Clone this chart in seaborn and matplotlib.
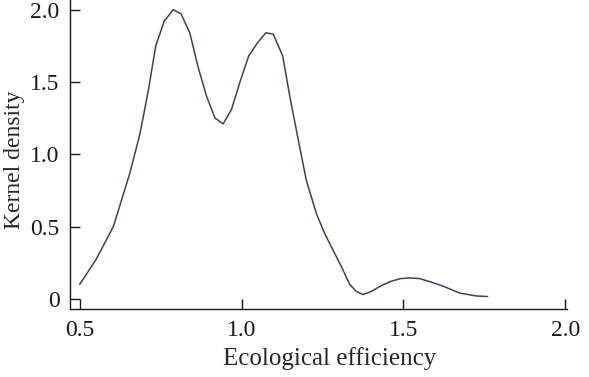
import numpy as np
import pandas as pd
import matplotlib
matplotlib.use("Agg")
import matplotlib.pyplot as plt
import seaborn as sns

# kernel density estimate
efficiency = [0.500, 0.550, 0.604, 0.655, 0.686, 0.712, 0.735, 0.761, 0.789,
              0.813, 0.840, 0.866, 0.892, 0.918, 0.943, 0.969, 0.995, 1.022,
              1.049, 1.075, 1.098, 1.127, 1.149, 1.175, 1.200, 1.231, 1.257,
              1.309, 1.334, 1.355, 1.375, 1.400, 1.430, 1.460, 1.490, 1.520,
              1.550, 1.580, 1.620, 1.674, 1.725, 1.760]
density = [0.10, 0.27, 0.50, 0.87, 1.14, 1.44, 1.75, 1.92, 2.00,
           1.97, 1.84, 1.60, 1.40, 1.25, 1.21, 1.31, 1.50, 1.68,
           1.77, 1.84, 1.83, 1.68, 1.40, 1.10, 0.82, 0.59, 0.45,
           0.22, 0.10, 0.05, 0.03, 0.05, 0.09, 0.12, 0.14, 0.145,
           0.14, 0.12, 0.09, 0.04, 0.02, 0.016]

x_ticks = [0.5, 1.0, 1.5, 2.0]
x_labels = ["0.5", "1.0", "1.5", "2.0"]
y_ticks = [0, 0.5, 1.0, 1.5, 2.0]
y_labels = ["0", "0.5", "1.0", "1.5", "2.0"]

sns.set_style("ticks")
plt.rcParams["font.family"] = ["Liberation Serif", "DejaVu Serif"]

df = pd.DataFrame({"Ecological efficiency": efficiency, "Kernel density": density})

fig = plt.figure(figsize=(5.89, 3.77), dpi=100)
ax = fig.add_axes([0.1188, 0.1804, 0.8438, 0.8186])
sns.lineplot(data=df, x="Ecological efficiency", y="Kernel density",
             color="#3b4260", linewidth=1.1, ax=ax)

ax.set_xlim(0.47, 2.005)
ax.set_ylim(-0.07, 2.064)
ax.set_xticks(x_ticks)
ax.set_xticklabels(x_labels)
ax.set_yticks(y_ticks)
ax.set_yticklabels(y_labels)
ax.tick_params(direction="in", length=7.5, width=1.0,
               labelsize=17, colors="#1a1a1a")
ax.tick_params(axis="x", pad=8)
ax.tick_params(axis="y", pad=7.5)
for side in ["top", "right"]:
    ax.spines[side].set_visible(False)
for side in ["left", "bottom"]:
    ax.spines[side].set_linewidth(1.0)
    ax.spines[side].set_color("#1a1a1a")

ax.set_xlabel("Ecological efficiency", fontsize=18, labelpad=4)
ax.set_ylabel("Kernel density", fontsize=17, labelpad=4)
# labels sit a little off-centre in the reference
ax.xaxis.label.set_x(0.522)
ax.yaxis.label.set_y(0.484)

fig.savefig("out.png", dpi=100)
